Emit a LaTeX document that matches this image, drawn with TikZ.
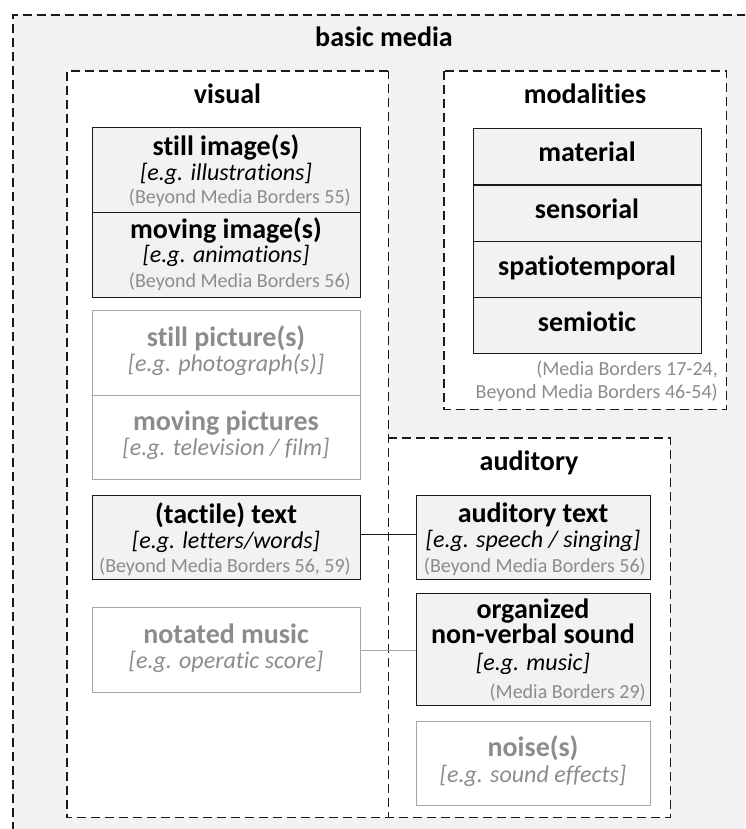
\documentclass[tikz,border=0pt]{standalone}
\usepackage{fontspec}
\setmainfont[Ligatures=NoCommon]{Carlito}
\definecolor{boxgray}{HTML}{F2F2F2}
\definecolor{palegray}{HTML}{A6A6A6}
\definecolor{refgray}{HTML}{8C8C8C}
\definecolor{linedark}{HTML}{1A1A1A}
\tikzset{
  framefill/.style={fill=white, inner sep=0pt, anchor=north west},
  framedash/.style={draw=linedark, line width=1.5pt, dash pattern=on 9pt off 5pt},
  darkbox/.style={draw=linedark, fill=boxgray, line width=1.4pt, inner sep=0pt, anchor=north west},
  palebox/.style={draw=palegray, fill=white, line width=1.4pt, inner sep=0pt, anchor=north west},
  hd/.style={font=\bfseries\fontsize{28}{25}\selectfont, anchor=base, inner sep=0pt, align=center},
  hdpale/.style={hd, text=refgray},
  eg/.style={font=\itshape\fontsize{24}{26}\selectfont, anchor=base, inner sep=0pt},
  egpale/.style={eg, text=refgray},
  srcref/.style={font=\fontsize{20}{22}\selectfont, text=refgray, anchor=base east, inner sep=0pt},
  link/.style={draw=linedark, line width=1.3pt},
  palelink/.style={draw=palegray, line width=1.3pt},
}
\begin{document}
\begin{tikzpicture}[x=1pt,y=-1pt]
\useasboundingbox (0,0) rectangle (745,829);
\clip (0,0) rectangle (745,829);

% outer frame: basic media
\node[fill=boxgray, inner sep=0pt, anchor=north west, minimum width=760pt, minimum height=830pt] (basic) at (13,15) {};
\draw[framedash] (basic.south west) -- (basic.north west) -- (basic.north east);
\node[hd] (basicT) at (384,47) {basic media};

% visual frame
\node[framefill, minimum width=321pt, minimum height=746pt] (visual) at (67,71) {};
\node[hd] (visualT) at (227.5,104) {visual};

% modalities frame
\node[framefill, minimum width=282pt, minimum height=338pt] (modal) at (444,71) {};
\draw[framedash] (modal.north west) rectangle (modal.south east);
\node[hd] (modalT) at (585,104) {modalities};

% auditory frame
\node[framefill, minimum width=282pt, minimum height=379pt] (audit) at (388,438) {};
\node[hd] (auditT) at (529,470) {auditory};

\draw[framedash] (visual.north east) -- (visual.north west) -- (visual.south west) -- (visual.south east) -- cycle;
\draw[framedash] (audit.north west) -- (audit.north east) -- (audit.south east) -- (audit.south west);

% visual media types
\node[darkbox, minimum width=268pt, minimum height=85pt] (stillimg) at (92,127) {};
\node[hd] at (226,156) {still image(s)};
\node[eg] at (226,180) {[e.g. illustrations]};
\node[srcref] at (351,203) {(Beyond Media Borders 55)};

\node[darkbox, minimum width=268pt, minimum height=85pt] (movimg) at (92,212) {};
\node[hd] at (226,238) {moving image(s)};
\node[eg] at (226,262) {[e.g. animations]};
\node[srcref] at (351,287) {(Beyond Media Borders 56)};

\node[palebox, minimum width=268pt, minimum height=85pt] (stillpic) at (92,310) {};
\node[hdpale] at (226,346) {still picture(s)};
\node[egpale] at (226,371) {[e.g. photograph(s)]};

\node[palebox, minimum width=268pt, minimum height=84pt] (movpic) at (92,395) {};
\node[hdpale] at (226,430) {moving pictures};
\node[egpale] at (226,455) {[e.g. television / film]};

\node[darkbox, minimum width=268pt, minimum height=84pt] (tactile) at (92,495) {};
\node[hd] at (226,523) {(tactile) text};
\node[eg] at (226,548) {[e.g. letters/words]};
\node[srcref] at (351,572) {(Beyond Media Borders 56, 59)};

\node[palebox, minimum width=268pt, minimum height=85pt] (notated) at (92,607) {};
\node[hdpale] at (226,643) {notated music};
\node[egpale] at (226,668) {[e.g. operatic score]};

% modalities
\node[darkbox, minimum width=228pt, minimum height=56.25pt] (material) at (473,128) {};
\node[hd] at (587,162) {material};
\node[darkbox, minimum width=228pt, minimum height=56.25pt] (sensorial) at (473,184.25) {};
\node[hd] at (587,218.5) {sensorial};
\node[darkbox, minimum width=228pt, minimum height=56.25pt] (spatio) at (473,240.5) {};
\node[hd] at (587,275) {spatiotemporal};
\node[darkbox, minimum width=228pt, minimum height=56.25pt] (semiotic) at (473,296.75) {};
\node[hd] at (587,331) {semiotic};
\node[srcref] at (718,375) {(Media Borders 17-24,};
\node[srcref] at (718,398) {Beyond Media Borders 46-54)};

% auditory media types
\node[darkbox, minimum width=234pt, minimum height=84pt] (audtext) at (416,495) {};
\node[hd] at (533,522) {auditory text};
\node[eg] at (533,547) {[e.g. speech / singing]};
\node[srcref] at (646,572) {(Beyond Media Borders 56)};

\node[darkbox, minimum width=234pt, minimum height=112pt] (organized) at (416,593) {};
\node[hd, anchor=north] at (533,599) {organized\\non-verbal sound};
\node[eg] at (533,670) {[e.g. music]};
\node[srcref] at (646,698) {(Media Borders 29)};

\node[palebox, minimum width=234pt, minimum height=84pt] (noise) at (416,721) {};
\node[hdpale] at (533,756) {noise(s)};
\node[egpale] at (533,782) {[e.g. sound effects]};

% links between visual and auditory counterparts
\draw[link] ([yshift=3pt]tactile.east) -- ([yshift=3pt]tactile.east -| audtext.west);
\draw[palelink] (notated.east) -- (notated.east -| organized.west);
\end{tikzpicture}
\end{document}
